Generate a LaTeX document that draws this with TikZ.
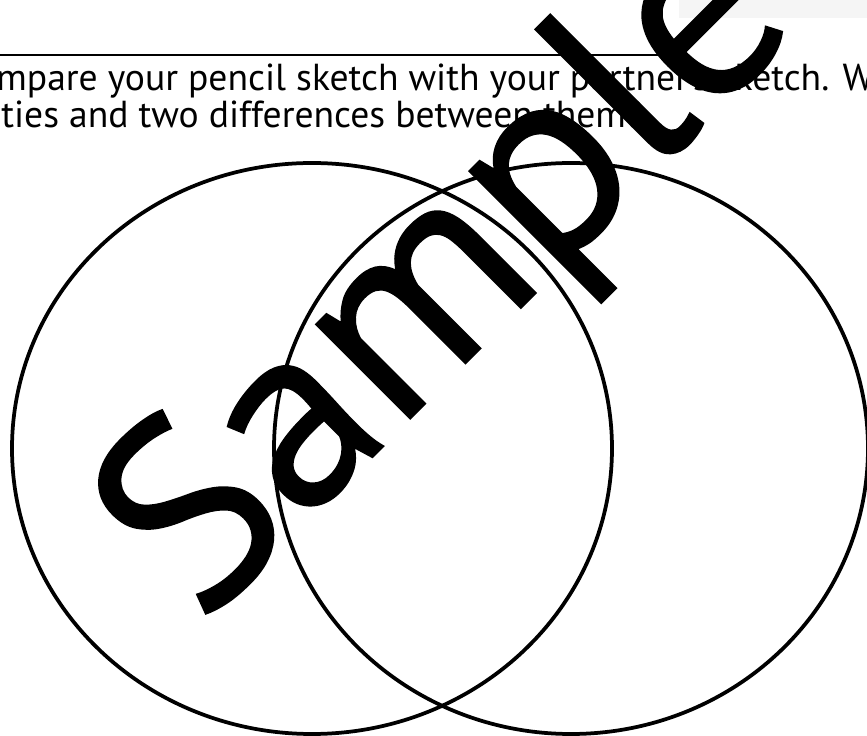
\documentclass[tikz,border=0pt]{standalone}
\usepackage{fontspec}
\setmainfont{PT Sans}
\newfontfamily\stampfont[FakeBold=0.6]{PT Sans}
\newlength\cutw
\settowidth\cutw{\fontsize{21.4pt}{25pt}\selectfont Co}
\begin{document}
\begin{tikzpicture}[x=0.02cm,y=-0.02cm,venn/.style={draw,line width=0.075cm},frame/.style={draw,line width=0.05cm},txt/.style={font=\fontsize{21.4pt}{25pt}\selectfont,inner sep=0,anchor=base west},stamp/.style={font=\stampfont\fontsize{152pt}{152pt}\selectfont,inner sep=0,anchor=base,rotate=45}]
\useasboundingbox(0,0)rectangle(867,736);
\fill[black!4](679,0)rectangle(867,18);
\draw[frame](0,55)-|(662,0);
\draw[venn](312,448.5)ellipse[x radius=300,y radius=285.5];
\draw[venn](571,448.5)ellipse[x radius=297,y radius=285.5];
\node[txt,xshift=-\cutw-0.08cm](q1)at(0,91){Compare your pencil sketch with your partner's sketch. What};
\node[txt](q2)at(1,128){ties and two differences between them?};
\node[stamp](wm)at(502,327){Sample};
\end{tikzpicture}
\end{document}
